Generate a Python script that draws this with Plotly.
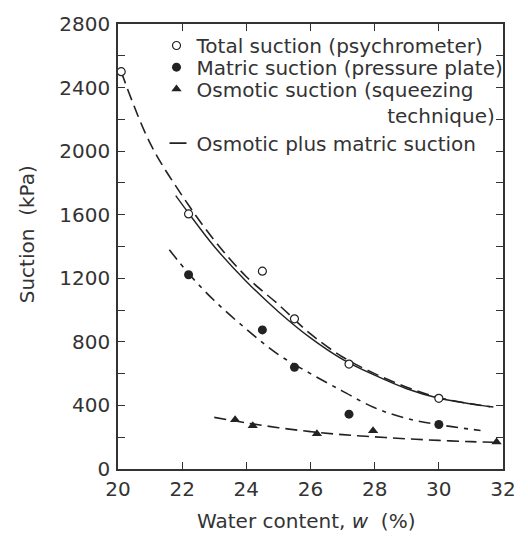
import plotly.graph_objects as go

# Measured suctions against water content
w_total = [20.1, 22.2, 24.5, 25.5, 27.2, 30.0]
s_total = [2500, 1605, 1245, 945, 660, 445]

w_matric = [22.2, 24.5, 25.5, 27.2, 30.0]
s_matric = [1222, 875, 640, 345, 280]

w_osmotic = [23.65, 24.2, 26.2, 27.95, 31.8]
s_osmotic = [310, 272, 222, 240, 170]

# Smoothed curves through the data
w_total_fit = [20.1, 21.0, 22.0, 23.0, 24.0, 25.0, 26.0, 27.0, 28.0, 29.0, 30.0, 31.0, 31.7]
s_total_fit = [2500, 2050, 1720, 1440, 1210, 1035, 850, 705, 600, 515, 450, 410, 390]

w_sum_fit = [21.8, 22.2, 23.0, 24.0, 25.0, 26.0, 27.0, 28.0, 29.0, 30.0, 31.0, 31.6]
s_sum_fit = [1720, 1610, 1400, 1180, 990, 825, 690, 590, 505, 445, 410, 392]

w_matric_fit = [21.6, 22.2, 23.0, 24.0, 25.0, 26.0, 27.0, 28.0, 29.0, 30.0, 31.3]
s_matric_fit = [1380, 1230, 1060, 880, 720, 600, 490, 385, 318, 279, 242]

w_osmotic_fit = [23.0, 24.0, 25.0, 26.0, 27.0, 28.0, 29.0, 30.0, 31.0, 31.7]
s_osmotic_fit = [325, 290, 260, 235, 216, 202, 190, 180, 172, 168]

INK = "#222222"
TEXT = "#333333"
FONT = "DejaVu Sans"
NBSP = "\u00a0"

fig = go.Figure()

# Fitted curves
fig.add_trace(go.Scatter(x=w_total_fit, y=s_total_fit, mode="lines", showlegend=False,
                         line=dict(color=INK, width=1.6, dash="12px,6px", shape="spline")))
fig.add_trace(go.Scatter(x=w_sum_fit, y=s_sum_fit, mode="lines", showlegend=False,
                         line=dict(color=INK, width=1.4, shape="spline")))
fig.add_trace(go.Scatter(x=w_matric_fit, y=s_matric_fit, mode="lines", showlegend=False,
                         line=dict(color=INK, width=1.6, dash="12px,6px,4px,6px", shape="spline")))
fig.add_trace(go.Scatter(x=w_osmotic_fit, y=s_osmotic_fit, mode="lines", showlegend=False,
                         line=dict(color=INK, width=1.6, dash="12px,6px", shape="spline")))

# Measured points, each with its own legend row
fig.add_trace(go.Scatter(x=w_total, y=s_total, mode="markers", name="Total suction (psychrometer)",
                         legend="legend",
                         marker=dict(symbol="circle", size=8, color="white",
                                     line=dict(color=INK, width=1.2))))
fig.add_trace(go.Scatter(x=w_matric, y=s_matric, mode="markers", name="Matric suction (pressure plate)",
                         legend="legend2",
                         marker=dict(symbol="circle", size=9, color=INK)))
fig.add_trace(go.Scatter(x=w_osmotic, y=s_osmotic, mode="markers",
                         name="Osmotic suction (squeezing<br>" + NBSP * 30 + "technique)",
                         legend="legend3",
                         marker=dict(symbol="triangle-up", size=9, color=INK)))
# Legend key for the solid curve
fig.add_trace(go.Scatter(x=[None], y=[None], mode="lines", name="Osmotic plus matric suction",
                         legend="legend4",
                         line=dict(color=INK, width=1.6, dash="0px,8px,17px,100px")))

axis_common = dict(
    showline=True, linecolor=TEXT, linewidth=1.5, mirror="ticks",
    ticks="inside", ticklen=7, tickwidth=1.2, tickcolor=TEXT,
    showgrid=False, zeroline=False,
    tickfont=dict(family=FONT, size=20, color=TEXT),
)

fig.update_xaxes(range=[20, 32], dtick=2, tick0=20, ticklabelstandoff=1, **axis_common)
fig.update_yaxes(range=[0, 2800], dtick=400, tick0=0, ticklabelstandoff=2,
                 minor=dict(dtick=200, ticks="inside", ticklen=7, tickcolor=TEXT, tickwidth=1.2),
                 **axis_common)

# Axis titles
title_font = dict(family=FONT, size=20, color=TEXT)
fig.add_annotation(text="Water content, <i>w</i>  (%)", xref="paper", yref="paper",
                   x=0.4886, y=-0.1175, xanchor="center", yanchor="middle",
                   showarrow=False, font=title_font)
fig.add_annotation(text="Suction  (kPa)", xref="paper", yref="paper",
                   x=-0.2374, y=0.5266, xanchor="center", yanchor="middle",
                   textangle=-90, showarrow=False, font=title_font)

legend_style = dict(x=0.1, xanchor="left", yanchor="top", valign="top",
                    bgcolor="rgba(0,0,0,0)", borderwidth=0,
                    font=dict(family=FONT, size=20, color=TEXT))

fig.update_layout(
    width=528, height=547,
    margin=dict(l=118, r=14, t=18, b=78),
    paper_bgcolor="white", plot_bgcolor="white",
    font=dict(family=FONT, size=20, color=TEXT),
    legend=dict(y=0.9955, **legend_style),
    legend2=dict(y=0.9468, **legend_style),
    legend3=dict(y=0.8980, **legend_style),
    legend4=dict(y=0.7761, **legend_style),
)

fig.write_html("out.html")
